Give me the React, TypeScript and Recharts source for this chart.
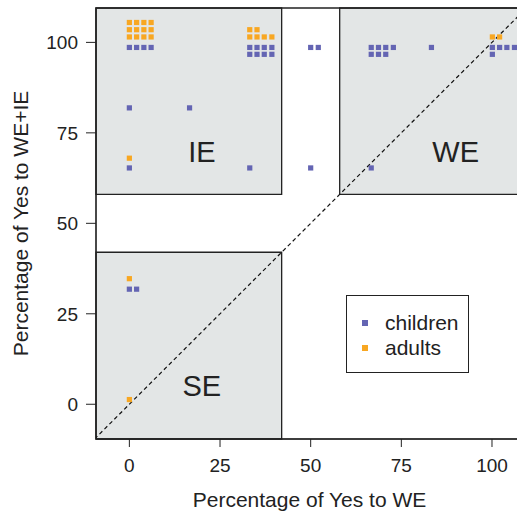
import {
  ScatterChart, Scatter, XAxis, YAxis, ReferenceArea, ReferenceLine, ReferenceDot, Legend,
} from 'recharts';

// point positions as plotted (values are stacked a little so equal answers don't overlap)
const childX = [
  0, 2, 4, 6,
  33.2, 35.2, 37.2, 39.3,
  33.2, 35.2, 37.2, 39.3,
  0, 16.6,
  0, 33.2,
  50, 52.1,
  50,
  66.7, 68.7, 70.7, 72.8,
  66.7, 68.7, 70.7,
  83.3,
  100.1, 102.1, 104.1, 106.2,
  100.1,
  66.7,
  0, 2,
];
const childY = [
  98.6, 98.6, 98.6, 98.6,
  98.6, 98.6, 98.6, 98.6,
  96.7, 96.7, 96.7, 96.7,
  81.9, 81.9,
  65.3, 65.3,
  98.6, 98.6,
  65.3,
  98.6, 98.6, 98.6, 98.6,
  96.7, 96.7, 96.7,
  98.6,
  98.6, 98.6, 98.6, 98.6,
  96.7,
  65.3,
  31.8, 31.8,
];

const adultX = [
  0, 2, 4, 6,
  0, 2, 4, 6,
  0, 2, 4, 6,
  33.2, 35.2,
  33.2, 35.2, 37.2, 39.3,
  0,
  100.1, 102.1,
  0,
  0,
];
const adultY = [
  105.5, 105.5, 105.5, 105.5,
  103.5, 103.5, 103.5, 103.5,
  101.5, 101.5, 101.5, 101.5,
  103.5, 103.5,
  101.5, 101.5, 101.5, 101.5,
  68.0,
  101.5, 101.5,
  34.7,
  1.3,
];

const xTicks = [0, 25, 50, 75, 100];
const yTicks = [0, 25, 50, 75, 100];

const X_MIN = -9.2;
const X_MAX = 108;
const Y_MIN = -9.6;
const Y_MAX = 109.5;

const CHILD = '#6465b3';
const ADULT = '#f8a722';
const REGION = '#e3e6e6';
const INK = '#222';
const FONT = '"Liberation Sans", Arial, sans-serif';

const children = childX.map((x, i) => ({ x, y: childY[i] }));
const adults = adultX.map((x, i) => ({ x, y: adultY[i] }));

const Square = (props: any) => {
  const { cx, cy, fill } = props;
  if (cx == null || cy == null) return null;
  return <rect x={cx - 2.6} y={cy - 2.6} width={5.2} height={5.2} fill={fill} />;
};

const LegendBox = () => (
  <div
    style={{
      width: 123,
      height: 78,
      border: '1px solid #222',
      background: '#fff',
      boxSizing: 'border-box',
      fontFamily: FONT,
      fontSize: 21,
      color: INK,
      padding: '14px 0 0 15px',
    }}
  >
    {[{ name: 'children', color: CHILD }, { name: 'adults', color: ADULT }].map(item => (
      <div key={item.name} style={{ display: 'flex', alignItems: 'center', height: 25.5 }}>
        <span style={{ width: 6, height: 6, background: item.color, display: 'inline-block', marginRight: 17 }} />
        <span>{item.name}</span>
      </div>
    ))}
  </div>
);

export default function App() {
  return (
    <div style={{ position: 'absolute', left: 0, top: 0, width: 517, height: 513, background: '#fff', overflow: 'hidden' }}>
      <ScatterChart
        width={517}
        height={513}
        margin={{ top: 8, right: -4, bottom: 0, left: 0 }}
        style={{ fontFamily: FONT }}
      >
        <XAxis
          type="number"
          dataKey="x"
          domain={[X_MIN, X_MAX]}
          ticks={xTicks}
          allowDataOverflow
          height={74}
          tickSize={8}
          tickMargin={12}
          stroke={INK}
          tick={{ fontSize: 19, fill: INK }}
          label={(p: any) => {
            const vb = p.viewBox;
            return (
              <text x={vb.x + vb.width / 2 + 1} y={vb.y + 60} textAnchor="middle" dominantBaseline="central" fontSize={21} fill={INK}>
                Percentage of Yes to WE
              </text>
            );
          }}
        />
        <YAxis
          type="number"
          dataKey="y"
          domain={[Y_MIN, Y_MAX]}
          ticks={yTicks}
          allowDataOverflow
          width={96}
          tickSize={10}
          tickMargin={8}
          stroke={INK}
          tick={{ fontSize: 19, fill: INK }}
          label={(p: any) => {
            const vb = p.viewBox;
            const cx = vb.x + 20;
            const cy = vb.y + vb.height / 2;
            return (
              <text x={cx} y={cy} transform={`rotate(-90 ${cx} ${cy})`} textAnchor="middle" dominantBaseline="central" fontSize={21} fill={INK}>
                Percentage of Yes to WE+IE
              </text>
            );
          }}
        />
        <ReferenceArea x1={X_MIN} x2={42} y1={58} y2={Y_MAX} fill={REGION} fillOpacity={1} stroke={INK} strokeWidth={1.3} />
        <ReferenceArea x1={58} x2={X_MAX} y1={58} y2={Y_MAX} fill={REGION} fillOpacity={1} stroke={INK} strokeWidth={1.3} />
        <ReferenceArea x1={X_MIN} x2={42} y1={Y_MIN} y2={42} fill={REGION} fillOpacity={1} stroke={INK} strokeWidth={1.3} />
        <ReferenceArea x1={X_MIN} x2={X_MAX} y1={Y_MIN} y2={Y_MAX} fill="none" stroke={INK} strokeWidth={1.3} />
        <ReferenceLine
          segment={[{ x: Y_MIN, y: Y_MIN }, { x: Y_MAX, y: Y_MAX }]}
          stroke="#111"
          strokeDasharray="4 3"
          strokeWidth={1.2}
          ifOverflow="hidden"
        />
        <ReferenceDot x={20} y={69.8} r={0} fill="none" stroke="none" label={{ value: 'IE', position: 'center', fontSize: 29, fill: INK }} />
        <ReferenceDot x={90} y={69.8} r={0} fill="none" stroke="none" label={{ value: 'WE', position: 'center', fontSize: 29, fill: INK }} />
        <ReferenceDot x={20} y={5} r={0} fill="none" stroke="none" label={{ value: 'SE', position: 'center', fontSize: 29, fill: INK }} />
        <Scatter name="children" data={children} fill={CHILD} shape={Square} isAnimationActive={false} />
        <Scatter name="adults" data={adults} fill={ADULT} shape={Square} isAnimationActive={false} />
        <Legend
          layout="vertical"
          align="center"
          verticalAlign="middle"
          wrapperStyle={{ left: 346, top: 295, width: 123 }}
          content={() => <LegendBox />}
        />
      </ScatterChart>
    </div>
  );
}
